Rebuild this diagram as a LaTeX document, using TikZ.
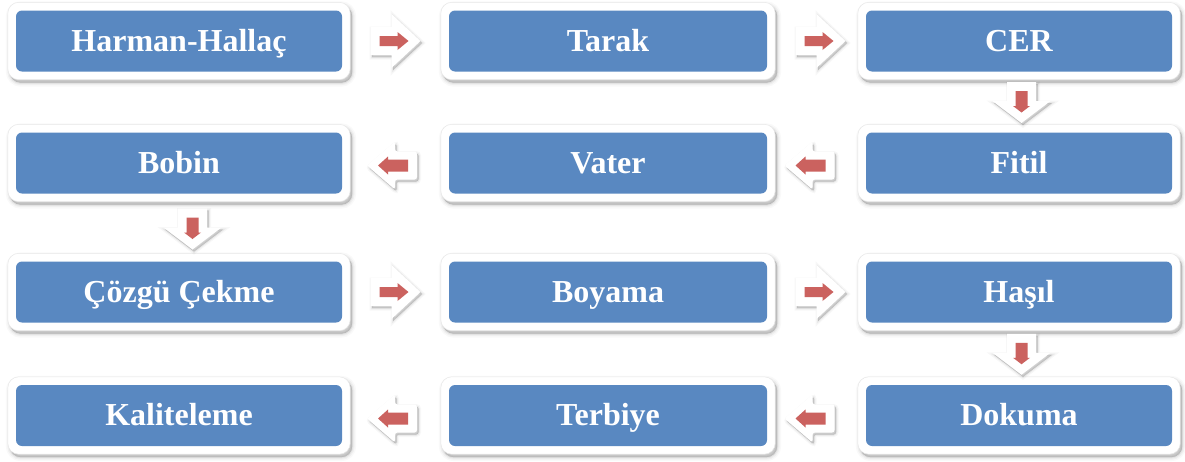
\documentclass[tikz,border=0pt]{standalone}
\usepackage{fontspec}
\setmainfont{Liberation Serif}
\usetikzlibrary{calc,fit,backgrounds,shadows}
\definecolor{boxblue}{RGB}{89,136,193}
\definecolor{arrred}{RGB}{203,98,95}
\begin{document}
\begin{tikzpicture}[x=1pt,y=-1pt,
  inbox/.style={fill=boxblue, rounded corners=6pt, minimum height=61pt, inner sep=0pt,
    text=white, font=\bfseries\fontsize{32}{38}\selectfont, text height=20.5pt, text depth=0pt},
  colA/.style={minimum width=326pt},
  colB/.style={minimum width=318pt},
  colC/.style={minimum width=306pt},
  softshadow/.style={
    general shadow={shadow xshift=2pt, shadow yshift=-3pt, draw=black, fill=black, line width=8pt, opacity=0.025},
    general shadow={shadow xshift=2pt, shadow yshift=-3pt, draw=black, fill=black, line width=5pt, opacity=0.035},
    general shadow={shadow xshift=2pt, shadow yshift=-3pt, draw=black, fill=black, line width=2.5pt, opacity=0.05},
    general shadow={shadow xshift=2pt, shadow yshift=-3pt, draw=black, fill=black, line width=0.5pt, opacity=0.06}},
  arrshadow/.style={
    general shadow={shadow xshift=1.5pt, shadow yshift=-2pt, draw=black, fill=black, line width=5pt, opacity=0.03},
    general shadow={shadow xshift=1.5pt, shadow yshift=-2pt, draw=black, fill=black, line width=2.5pt, opacity=0.05},
    general shadow={shadow xshift=1.5pt, shadow yshift=-2pt, draw=black, fill=black, line width=0.5pt, opacity=0.07}},
  outbox/.style={fill=white, draw=black!9, line width=0.5pt, rounded corners=11pt, inner sep=8pt, softshadow},
  rarr/.pic={
    \fill[white, arrshadow] (-25,-14) -- (-4,-14) -- (-4,-27) -- (25,0) -- (-4,27) -- (-4,14) -- (-25,14) -- cycle;
    \fill[arrred] (-16,-5) -- (2,-5) -- (2,-9) -- (13,0) -- (2,9) -- (2,5) -- (-16,5) -- cycle;
  },
  larr/.pic={
    \fill[white, arrshadow, rounded corners=2.5pt] (25,-14) -- (3,-14) -- (3,-24) -- (-25,0) -- (3,24) -- (3,14) -- (25,14) -- cycle;
    \fill[arrred] (16,-6) -- (-4,-6) -- (-4,-9) -- (-14,0) -- (-4,9) -- (-4,6) -- (16,6) -- cycle;
  },
  darr/.pic={
    \fill[white, arrshadow] (-14.5,-20) -- (14.5,-20) -- (14.5,-1) -- (29,-1) -- (0,21) -- (-29,-1) -- (-14.5,-1) -- cycle;
    \fill[arrred] (-6,-11) -- (6,-11) -- (6,4) -- (8.5,4) -- (0,10.5) -- (-8.5,4) -- (-6,4) -- cycle;
  }
]
\useasboundingbox (0,0) rectangle (1185,461);

% row 1
\node[inbox, colA] (hh)     at (179,41)  {Harman-Hallaç};
\node[inbox, colB] (tarak)  at (608,41)  {Tarak};
\node[inbox, colC] (cer)    at (1019,41) {CER};
% row 2
\node[inbox, colA] (bobin)  at (179,163)  {Bobin};
\node[inbox, colB] (vater)  at (608,163)  {Vater};
\node[inbox, colC] (fitil)  at (1019,163) {Fitil};
% row 3
\node[inbox, colA] (cozgu)  at (179,292)  {Çözgü Çekme};
\node[inbox, colB] (boyama) at (608,292)  {Boyama};
\node[inbox, colC] (hasil)  at (1019,292) {Haşıl};
% row 4
\node[inbox, colA] (kalite)  at (179,415.5)  {Kaliteleme};
\node[inbox, colB] (terbiye) at (608,415.5)  {Terbiye};
\node[inbox, colC] (dokuma)  at (1019,415.5) {Dokuma};

\begin{scope}[on background layer]
  \fill[white] (0,0) rectangle (1185,461);
  \foreach \n in {hh,tarak,cer,bobin,vater,fitil,cozgu,boyama,hasil,kalite,terbiye,dokuma}
    \node[outbox, fit=(\n)] (\n-out) {};
\end{scope}

% connectors (block arrows)
\path ($(hh.east)!0.5!(tarak.west)$) pic {rarr};
\path ($(tarak.east)!0.5!(cer.west)$) ++(4,0) pic {rarr};
\path ($(cer.south)!0.5!(fitil.north)$) ++(2.5,0) pic {darr};
\path ($(fitil.west)!0.5!(vater.east)$) ++(-7,2.5) pic {larr};
\path ($(vater.west)!0.5!(bobin.east)$) ++(-3.5,2.5) pic {larr};
\path ($(bobin.south)!0.5!(cozgu.north)$) ++(13.5,1) pic {darr};
\path ($(cozgu.east)!0.5!(boyama.west)$) pic {rarr};
\path ($(boyama.east)!0.5!(hasil.west)$) ++(4,0) pic {rarr};
\path ($(hasil.south)!0.5!(dokuma.north)$) ++(2.5,0) pic {darr};
\path ($(dokuma.west)!0.5!(terbiye.east)$) ++(-7,3) pic {larr};
\path ($(terbiye.west)!0.5!(kalite.east)$) ++(-3.5,3) pic {larr};
\end{tikzpicture}
\end{document}
